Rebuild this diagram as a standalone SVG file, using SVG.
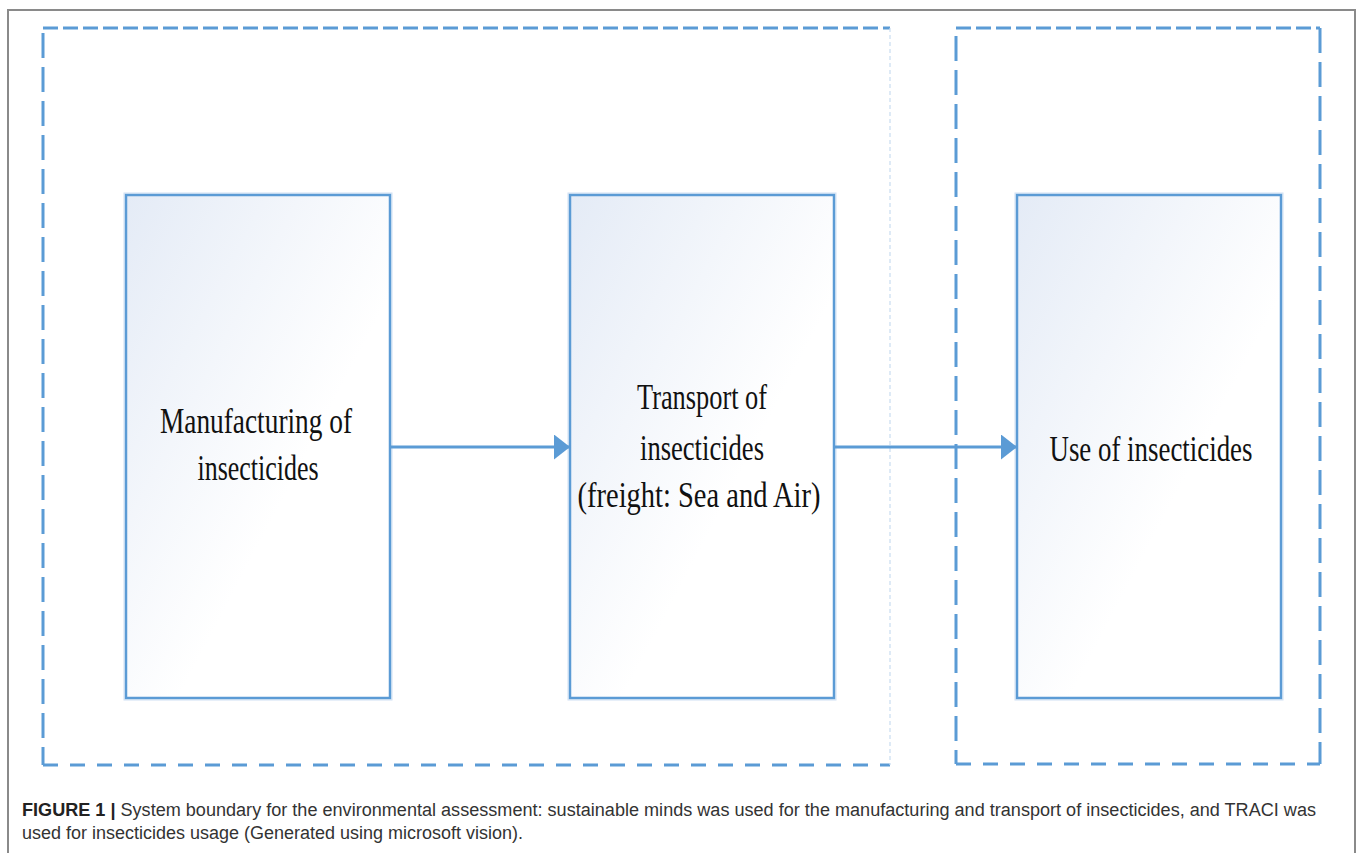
<svg xmlns="http://www.w3.org/2000/svg" width="1357" height="853" viewBox="0 0 1357 853">
<style>
.frame{fill:none;stroke:#8a8a8a;stroke-width:2}
.bnd{fill:none;stroke:#5b9bd5;stroke-width:3}
.h1{stroke-dasharray:15 5}
.h2{stroke-dasharray:15 12}
.v{stroke-dasharray:25 9}
.faint{fill:none;stroke:#c9ddf1;stroke-width:1.2;stroke-dasharray:4 3}
.node{fill:url(#g);stroke:#5b9bd5;stroke-width:2.5}
.halo{fill:none;stroke:#cfe0f3;stroke-width:1}
.lbl{font-family:"Liberation Serif","Times New Roman",serif;font-size:35px;fill:#111;text-anchor:middle}
.conn{stroke:#5b9bd5;stroke-width:3;fill:none}
.cap{font-family:"Liberation Sans",Arial,sans-serif;font-size:18px;fill:#333}
</style>
<defs>
<linearGradient id="g" x1="0" y1="0" x2="1" y2="1">
<stop offset="0" stop-color="#e4ebf6"/>
<stop offset="0.6" stop-color="#ffffff"/>
<stop offset="1" stop-color="#ffffff"/>
</linearGradient>
<marker id="ah" markerUnits="userSpaceOnUse" markerWidth="17" markerHeight="26" refX="16" refY="12.5" orient="auto" viewBox="0 0 17 26">
<path d="M0,0 L16,12.5 L0,25 z" fill="#5b9bd5"/>
</marker>
</defs>
<rect width="1357" height="853" fill="#ffffff"/>
<rect class="frame" x="8" y="10" width="1347" height="852"/>

<g id="boundary-1">
<line class="bnd h1" x1="43" y1="28" x2="890" y2="28"/>
<line class="bnd v" x1="43" y1="33" x2="43" y2="765"/>
<line class="bnd h2" x1="43" y1="765" x2="890" y2="765"/>
<line class="faint" x1="890" y1="28" x2="890" y2="765"/>
</g>
<g id="boundary-2">
<line class="bnd h1" x1="956" y1="28" x2="1320" y2="28"/>
<line class="bnd v" x1="956" y1="36" x2="956" y2="764"/>
<line class="bnd h2" x1="956" y1="764" x2="1320" y2="764"/>
<line class="bnd v" x1="1320" y1="28" x2="1320" y2="764"/>
</g>

<g id="node-manufacturing">
<rect class="halo" x="124" y="193" width="268" height="507"/>
<rect class="node" x="126" y="195" width="264" height="503"/>
<text class="lbl" x="256" y="433" textLength="192" lengthAdjust="spacingAndGlyphs">Manufacturing of</text>
<text class="lbl" x="258" y="480" textLength="121" lengthAdjust="spacingAndGlyphs">insecticides</text>
</g>
<g id="node-transport">
<rect class="halo" x="568" y="193" width="268" height="507"/>
<rect class="node" x="570" y="195" width="264" height="503"/>
<text class="lbl" x="702" y="409" textLength="130" lengthAdjust="spacingAndGlyphs">Transport of</text>
<text class="lbl" x="702" y="460" textLength="124" lengthAdjust="spacingAndGlyphs">insecticides</text>
<text class="lbl" x="699" y="507" textLength="243" lengthAdjust="spacingAndGlyphs">(freight: Sea and Air)</text>
</g>
<g id="node-use">
<rect class="halo" x="1015" y="193" width="268" height="507"/>
<rect class="node" x="1017" y="195" width="264" height="503"/>
<text class="lbl" x="1151" y="461" textLength="203" lengthAdjust="spacingAndGlyphs">Use of insecticides</text>
</g>

<g id="connectors">
<line class="conn" x1="390" y1="447" x2="570" y2="447" marker-end="url(#ah)"/>
<line class="conn" x1="834" y1="447" x2="1017" y2="447" marker-end="url(#ah)"/>
</g>

<g id="caption">
<text class="cap" x="22" y="816" textLength="1294" lengthAdjust="spacingAndGlyphs"><tspan font-weight="bold" fill="#222">FIGURE 1 |</tspan> System boundary for the environmental assessment: sustainable minds was used for the manufacturing and transport of insecticides, and TRACI was</text>
<text class="cap" x="22" y="839" textLength="501" lengthAdjust="spacingAndGlyphs">used for insecticides usage (Generated using microsoft vision).</text>
</g>
</svg>
